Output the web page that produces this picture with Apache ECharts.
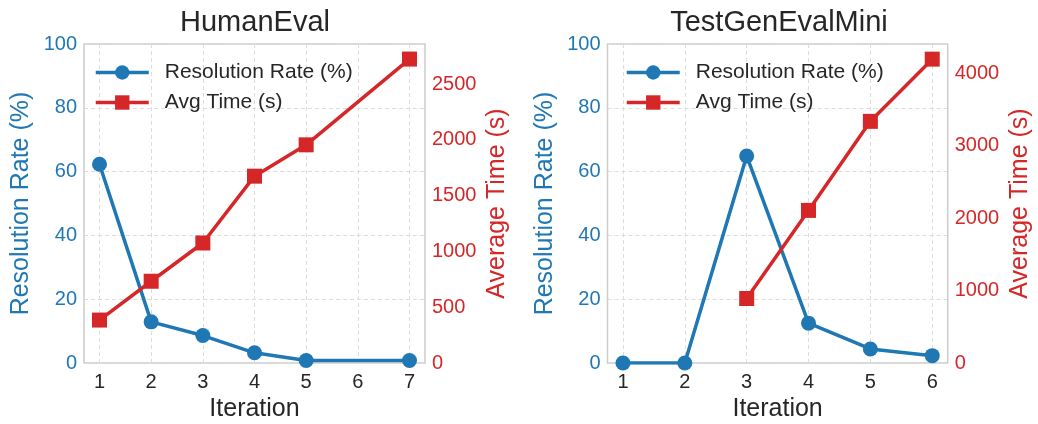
<!DOCTYPE html>
<html>
<head>
<meta charset="utf-8">
<script src="https://cdn.jsdelivr.net/npm/echarts@6/dist/echarts.min.js"></script>
<style>
html,body{margin:0;padding:0;background:#fff;}
#chart{width:1038px;height:424px;}
</style>
</head>
<body>
<div id="chart"></div>
<script>
// ---- data ----
const titles = ['HumanEval', 'TestGenEvalMini'];
const xTicksHE = [1, 2, 3, 4, 5, 6, 7];
const xTicksTG = [1, 2, 3, 4, 5, 6];
const iterHE = [1, 2, 3, 4, 5, 7];
const resolutionHE = [62.3, 12.9, 8.6, 3.2, 0.8, 0.8];
const timeHE = [385, 733, 1076, 1675, 1956, 2725];
const iterTG = [1, 2, 3, 4, 5, 6];
const resolutionTG = [0, 0, 64.9, 12.5, 4.4, 2.3];
const iterTimeTG = [3, 4, 5, 6];
const timeTG = [890, 2105, 3333, 4191];

const BLUE = '#1f77b4', RED = '#d62728', TXT = '#262626';
const FONT = '"Liberation Sans", Arial, sans-serif';

function pairs(xs, ys) { return xs.map((x, i) => [x, ys[i]]); }

const chart = echarts.init(document.getElementById('chart'), null, {renderer: 'canvas'});

function xAxis(gridIndex, ticks, min, max) {
  return {
    type: 'value', gridIndex, min, max,
    name: 'Iteration', nameLocation: 'middle', nameGap: 32,
    nameTextStyle: {color: TXT, fontSize: 25, fontFamily: FONT},
    axisLine: {show: false},
    axisTick: {show: false, customValues: ticks},
    axisLabel: {customValues: ticks, color: TXT, fontSize: 20, fontFamily: FONT, margin: 9},
    splitLine: {show: true, lineStyle: {color: '#dcdcdc', type: [4, 3], width: 1}}
  };
}
function yLeft(gridIndex) {
  return {
    type: 'value', gridIndex, min: 0, max: 100, interval: 20, position: 'left',
    name: 'Resolution Rate (%)', nameLocation: 'middle', nameGap: 50,
    nameTextStyle: {color: BLUE, fontSize: 25, fontFamily: FONT},
    axisLine: {show: false}, axisTick: {show: false},
    axisLabel: {color: BLUE, fontSize: 20, fontFamily: FONT, margin: 7},
    splitLine: {show: true, lineStyle: {color: '#dcdcdc', type: [4, 3], width: 1}}
  };
}
function yRight(gridIndex, max, interval) {
  return {
    type: 'value', gridIndex, min: 0, max, interval, position: 'right',
    name: 'Average Time (s)', nameLocation: 'middle', nameGap: 60,
    nameTextStyle: {color: RED, fontSize: 25, fontFamily: FONT},
    axisLine: {show: false}, axisTick: {show: false},
    axisLabel: {color: RED, fontSize: 20, fontFamily: FONT, margin: 7, showMaxLabel: false,
                formatter: v => String(v)},
    splitLine: {show: false}
  };
}
function lineSeries(name, xi, yi, data, color, symbol) {
  return {
    name, type: 'line', xAxisIndex: xi, yAxisIndex: yi, data,
    symbol, symbolSize: 15, showSymbol: true,
    lineStyle: {color, width: 3.5}, itemStyle: {color},
    emphasis: {disabled: true}, animation: false, clip: true
  };
}
function legend(left) {
  return {
    left, top: 62, orient: 'vertical', padding: 0, itemGap: 9,
    itemWidth: 53, itemHeight: 18,
    lineStyle: {width: 3.5},
    textStyle: {color: TXT, fontSize: 21, fontFamily: FONT, padding: [0, 0, 0, 11]},
    data: ['Resolution Rate (%)', 'Avg Time (s)'], selectedMode: false
  };
}

const option = {
  backgroundColor: '#fff',
  animation: false,
  title: [
    {text: titles[0], left: 250, top: 3, textAlign: 'center',
     textStyle: {color: TXT, fontSize: 29, fontWeight: 'normal', fontFamily: FONT}},
    {text: titles[1], left: 774, top: 3, textAlign: 'center',
     textStyle: {color: TXT, fontSize: 29, fontWeight: 'normal', fontFamily: FONT}}
  ],
  legend: [legend(94), legend(625)],
  grid: [
    {left: 84, right: 613, top: 44, bottom: 61, show: true, borderColor: '#cccccc', borderWidth: 1.5,
     containLabel: false, outerBoundsMode: 'none'},
    {left: 607.5, right: 90.3, top: 44, bottom: 61, show: true, borderColor: '#cccccc', borderWidth: 1.5,
     containLabel: false, outerBoundsMode: 'none'}
  ],
  xAxis: [xAxis(0, xTicksHE, 0.7, 7.3), xAxis(1, xTicksTG, 0.75, 6.25)],
  yAxis: [yLeft(0), yRight(0, 2860, 500), yLeft(1), yRight(1, 4400, 1000)],
  series: [
    lineSeries('Resolution Rate (%)', 0, 0, pairs(iterHE, resolutionHE), BLUE, 'circle'),
    lineSeries('Avg Time (s)', 0, 1, pairs(iterHE, timeHE), RED, 'rect'),
    lineSeries('Resolution Rate (%)', 1, 2, pairs(iterTG, resolutionTG), BLUE, 'circle'),
    lineSeries('Avg Time (s)', 1, 3, pairs(iterTimeTG, timeTG), RED, 'rect')
  ]
};
chart.setOption(option);
</script>
</body>
</html>
